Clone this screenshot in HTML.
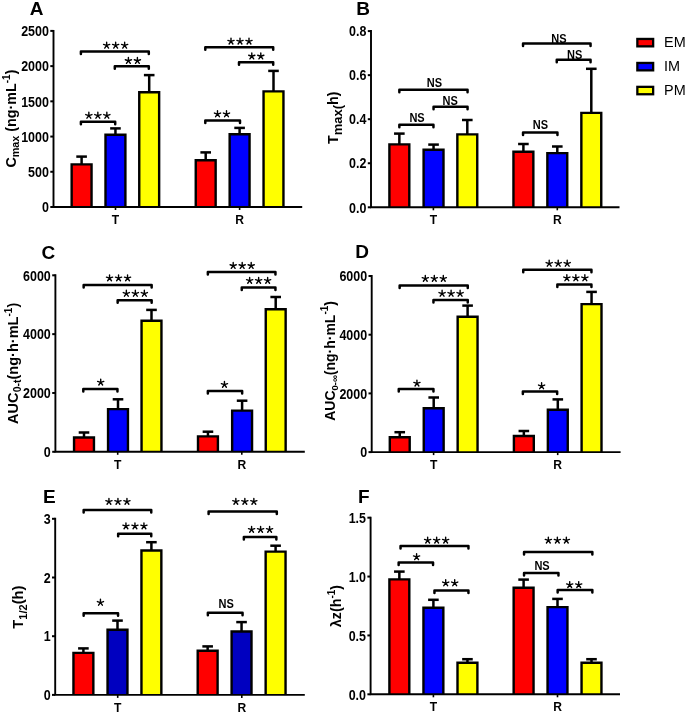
<!DOCTYPE html>
<html><head><meta charset="utf-8"><style>
html,body{margin:0;padding:0;background:#fff;}
svg{display:block;will-change:transform;}
text{font-family:"Liberation Sans", sans-serif;fill:#000;}
</style></head><body>
<svg width="685" height="714" viewBox="0 0 685 714">
<rect width="685" height="714" fill="#fff"/>
<path d="M81.6 164.2V156.6" stroke="#000" stroke-width="2.5"/><path d="M76.3 156.6H86.9" stroke="#000" stroke-width="2.5"/><rect x="71.65" y="164.4" width="19.9" height="42.6" fill="#ff0000"/><path d="M71.65 207V164.4H91.55V207" fill="none" stroke="#000" stroke-width="2.4"/><path d="M115.45 134.6V128.4" stroke="#000" stroke-width="2.5"/><path d="M110.15 128.4H120.75" stroke="#000" stroke-width="2.5"/><rect x="105.5" y="134.8" width="19.9" height="72.2" fill="#0000ff"/><path d="M105.5 207V134.8H125.4V207" fill="none" stroke="#000" stroke-width="2.4"/><path d="M149.2 92V75.1" stroke="#000" stroke-width="2.5"/><path d="M143.9 75.1H154.5" stroke="#000" stroke-width="2.5"/><rect x="139.25" y="92.2" width="19.9" height="114.8" fill="#ffff00"/><path d="M139.25 207V92.2H159.15V207" fill="none" stroke="#000" stroke-width="2.4"/><path d="M205.7 160V152.4" stroke="#000" stroke-width="2.5"/><path d="M200.4 152.4H211" stroke="#000" stroke-width="2.5"/><rect x="195.75" y="160.2" width="19.9" height="46.8" fill="#ff0000"/><path d="M195.75 207V160.2H215.65V207" fill="none" stroke="#000" stroke-width="2.4"/><path d="M239.6 134V127.9" stroke="#000" stroke-width="2.5"/><path d="M234.3 127.9H244.9" stroke="#000" stroke-width="2.5"/><rect x="229.65" y="134.2" width="19.9" height="72.8" fill="#0000ff"/><path d="M229.65 207V134.2H249.55V207" fill="none" stroke="#000" stroke-width="2.4"/><path d="M273.5 91.2V70.9" stroke="#000" stroke-width="2.5"/><path d="M268.2 70.9H278.8" stroke="#000" stroke-width="2.5"/><rect x="263.55" y="91.4" width="19.9" height="115.6" fill="#ffff00"/><path d="M263.55 207V91.4H283.45V207" fill="none" stroke="#000" stroke-width="2.4"/><path d="M53.5 29.9V207H302.2" stroke="#000" stroke-width="1.9" fill="none"/><path d="M50.3 207H53.5" stroke="#000" stroke-width="2"/><text transform="translate(48.9 212.2) scale(0.89 1)" font-size="14" font-weight="bold" text-anchor="end">0</text><path d="M50.3 171.78H53.5" stroke="#000" stroke-width="2"/><text transform="translate(48.9 176.98) scale(0.89 1)" font-size="14" font-weight="bold" text-anchor="end">500</text><path d="M50.3 136.56H53.5" stroke="#000" stroke-width="2"/><text transform="translate(48.9 141.76) scale(0.89 1)" font-size="14" font-weight="bold" text-anchor="end">1000</text><path d="M50.3 101.34H53.5" stroke="#000" stroke-width="2"/><text transform="translate(48.9 106.54) scale(0.89 1)" font-size="14" font-weight="bold" text-anchor="end">1500</text><path d="M50.3 66.12H53.5" stroke="#000" stroke-width="2"/><text transform="translate(48.9 71.32) scale(0.89 1)" font-size="14" font-weight="bold" text-anchor="end">2000</text><path d="M50.3 30.9H53.5" stroke="#000" stroke-width="2"/><text transform="translate(48.9 36.1) scale(0.89 1)" font-size="14" font-weight="bold" text-anchor="end">2500</text><path d="M115.5 207V210" stroke="#000" stroke-width="1.6"/><text transform="translate(115.5 224.1) scale(0.93 1)" font-size="13" font-weight="bold" text-anchor="middle">T</text><path d="M239.6 207V210" stroke="#000" stroke-width="1.6"/><text transform="translate(239.6 224.1) scale(0.93 1)" font-size="13" font-weight="bold" text-anchor="middle">R</text><path d="M80.9 54.1V51.6H148.8V54.1" stroke="#000" stroke-width="2.5" fill="none" stroke-linejoin="round" stroke-linecap="round"/><path d="M114.8 68.7V66.2H148.8V68.7" stroke="#000" stroke-width="2.5" fill="none" stroke-linejoin="round" stroke-linecap="round"/><path d="M80.9 124.2V121.7H115.2V124.2" stroke="#000" stroke-width="2.5" fill="none" stroke-linejoin="round" stroke-linecap="round"/><path d="M205.3 49.8V47.3H273.2V49.8" stroke="#000" stroke-width="2.5" fill="none" stroke-linejoin="round" stroke-linecap="round"/><path d="M239 64.7V62.2H273.2V64.7" stroke="#000" stroke-width="2.5" fill="none" stroke-linejoin="round" stroke-linecap="round"/><path d="M205.3 123V120.5H240V123" stroke="#000" stroke-width="2.5" fill="none" stroke-linejoin="round" stroke-linecap="round"/><path d="M106.65 45.45L106.65 42.2M106.65 45.45L109.74 44.45M106.65 45.45L103.56 44.45M106.65 45.45L108.56 48.08M106.65 45.45L104.74 48.08" stroke="#000" stroke-width="1.4" stroke-linecap="round" fill="none"/><path d="M115.65 45.45L115.65 42.2M115.65 45.45L118.74 44.45M115.65 45.45L112.56 44.45M115.65 45.45L117.56 48.08M115.65 45.45L113.74 48.08" stroke="#000" stroke-width="1.4" stroke-linecap="round" fill="none"/><path d="M124.65 45.45L124.65 42.2M124.65 45.45L127.74 44.45M124.65 45.45L121.56 44.45M124.65 45.45L126.56 48.08M124.65 45.45L122.74 48.08" stroke="#000" stroke-width="1.4" stroke-linecap="round" fill="none"/><path d="M128.4 60.75L128.4 57.5M128.4 60.75L131.49 59.75M128.4 60.75L125.31 59.75M128.4 60.75L130.31 63.38M128.4 60.75L126.49 63.38" stroke="#000" stroke-width="1.4" stroke-linecap="round" fill="none"/><path d="M137.4 60.75L137.4 57.5M137.4 60.75L140.49 59.75M137.4 60.75L134.31 59.75M137.4 60.75L139.31 63.38M137.4 60.75L135.49 63.38" stroke="#000" stroke-width="1.4" stroke-linecap="round" fill="none"/><path d="M88.85 115.55L88.85 112.3M88.85 115.55L91.94 114.55M88.85 115.55L85.76 114.55M88.85 115.55L90.76 118.18M88.85 115.55L86.94 118.18" stroke="#000" stroke-width="1.4" stroke-linecap="round" fill="none"/><path d="M97.85 115.55L97.85 112.3M97.85 115.55L100.94 114.55M97.85 115.55L94.76 114.55M97.85 115.55L99.76 118.18M97.85 115.55L95.94 118.18" stroke="#000" stroke-width="1.4" stroke-linecap="round" fill="none"/><path d="M106.85 115.55L106.85 112.3M106.85 115.55L109.94 114.55M106.85 115.55L103.76 114.55M106.85 115.55L108.76 118.18M106.85 115.55L104.94 118.18" stroke="#000" stroke-width="1.4" stroke-linecap="round" fill="none"/><path d="M231 41.35L231 38.1M231 41.35L234.09 40.35M231 41.35L227.91 40.35M231 41.35L232.91 43.98M231 41.35L229.09 43.98" stroke="#000" stroke-width="1.4" stroke-linecap="round" fill="none"/><path d="M240 41.35L240 38.1M240 41.35L243.09 40.35M240 41.35L236.91 40.35M240 41.35L241.91 43.98M240 41.35L238.09 43.98" stroke="#000" stroke-width="1.4" stroke-linecap="round" fill="none"/><path d="M249 41.35L249 38.1M249 41.35L252.09 40.35M249 41.35L245.91 40.35M249 41.35L250.91 43.98M249 41.35L247.09 43.98" stroke="#000" stroke-width="1.4" stroke-linecap="round" fill="none"/><path d="M251.8 56.25L251.8 53M251.8 56.25L254.89 55.25M251.8 56.25L248.71 55.25M251.8 56.25L253.71 58.88M251.8 56.25L249.89 58.88" stroke="#000" stroke-width="1.4" stroke-linecap="round" fill="none"/><path d="M260.8 56.25L260.8 53M260.8 56.25L263.89 55.25M260.8 56.25L257.71 55.25M260.8 56.25L262.71 58.88M260.8 56.25L258.89 58.88" stroke="#000" stroke-width="1.4" stroke-linecap="round" fill="none"/><path d="M217.5 114.05L217.5 110.8M217.5 114.05L220.59 113.05M217.5 114.05L214.41 113.05M217.5 114.05L219.41 116.68M217.5 114.05L215.59 116.68" stroke="#000" stroke-width="1.4" stroke-linecap="round" fill="none"/><path d="M226.5 114.05L226.5 110.8M226.5 114.05L229.59 113.05M226.5 114.05L223.41 113.05M226.5 114.05L228.41 116.68M226.5 114.05L224.59 116.68" stroke="#000" stroke-width="1.4" stroke-linecap="round" fill="none"/><text x="29.8" y="14.5" font-size="19" font-weight="bold" text-anchor="start">A</text><text transform="translate(16.1 167.6) rotate(-90)" text-anchor="start" font-size="14.3" font-weight="bold">C<tspan dy="2.6" font-size="10.8">max</tspan><tspan dy="-2.6"> (ng·mL</tspan><tspan dy="-6.3" font-size="10">-1</tspan><tspan dy="6.3">)</tspan></text>
<path d="M399.35 144.2V133.6" stroke="#000" stroke-width="2.5"/><path d="M394.05 133.6H404.65" stroke="#000" stroke-width="2.5"/><rect x="389.4" y="144.4" width="19.9" height="62.9" fill="#ff0000"/><path d="M389.4 207.3V144.4H409.3V207.3" fill="none" stroke="#000" stroke-width="2.4"/><path d="M433.55 149.6V144.6" stroke="#000" stroke-width="2.5"/><path d="M428.25 144.6H438.85" stroke="#000" stroke-width="2.5"/><rect x="423.6" y="149.8" width="19.9" height="57.5" fill="#0000ff"/><path d="M423.6 207.3V149.8H443.5V207.3" fill="none" stroke="#000" stroke-width="2.4"/><path d="M467.3 134.2V120" stroke="#000" stroke-width="2.5"/><path d="M462 120H472.6" stroke="#000" stroke-width="2.5"/><rect x="457.35" y="134.4" width="19.9" height="72.9" fill="#ffff00"/><path d="M457.35 207.3V134.4H477.25V207.3" fill="none" stroke="#000" stroke-width="2.4"/><path d="M523.4 151.6V144" stroke="#000" stroke-width="2.5"/><path d="M518.1 144H528.7" stroke="#000" stroke-width="2.5"/><rect x="513.45" y="151.8" width="19.9" height="55.5" fill="#ff0000"/><path d="M513.45 207.3V151.8H533.35V207.3" fill="none" stroke="#000" stroke-width="2.4"/><path d="M557.3 152.9V146.5" stroke="#000" stroke-width="2.5"/><path d="M552 146.5H562.6" stroke="#000" stroke-width="2.5"/><rect x="547.35" y="153.1" width="19.9" height="54.2" fill="#0000ff"/><path d="M547.35 207.3V153.1H567.25V207.3" fill="none" stroke="#000" stroke-width="2.4"/><path d="M591.3 112.7V68.8" stroke="#000" stroke-width="2.5"/><path d="M586 68.8H596.6" stroke="#000" stroke-width="2.5"/><rect x="581.35" y="112.9" width="19.9" height="94.4" fill="#ffff00"/><path d="M581.35 207.3V112.9H601.25V207.3" fill="none" stroke="#000" stroke-width="2.4"/><path d="M371 30.1V207.3H619.5" stroke="#000" stroke-width="1.9" fill="none"/><path d="M367.8 207.3H371" stroke="#000" stroke-width="2"/><text transform="translate(366.4 212.5) scale(0.89 1)" font-size="14" font-weight="bold" text-anchor="end">0.0</text><path d="M367.8 163.25H371" stroke="#000" stroke-width="2"/><text transform="translate(366.4 168.45) scale(0.89 1)" font-size="14" font-weight="bold" text-anchor="end">0.2</text><path d="M367.8 119.2H371" stroke="#000" stroke-width="2"/><text transform="translate(366.4 124.4) scale(0.89 1)" font-size="14" font-weight="bold" text-anchor="end">0.4</text><path d="M367.8 75.15H371" stroke="#000" stroke-width="2"/><text transform="translate(366.4 80.35) scale(0.89 1)" font-size="14" font-weight="bold" text-anchor="end">0.6</text><path d="M367.8 31.1H371" stroke="#000" stroke-width="2"/><text transform="translate(366.4 36.3) scale(0.89 1)" font-size="14" font-weight="bold" text-anchor="end">0.8</text><path d="M433.4 207.3V210.3" stroke="#000" stroke-width="1.6"/><text transform="translate(433.4 224.4) scale(0.93 1)" font-size="13" font-weight="bold" text-anchor="middle">T</text><path d="M557.3 207.3V210.3" stroke="#000" stroke-width="1.6"/><text transform="translate(557.3 224.4) scale(0.93 1)" font-size="13" font-weight="bold" text-anchor="middle">R</text><path d="M399.35 92.2V89.7H467.55V92.2" stroke="#000" stroke-width="2.5" fill="none" stroke-linejoin="round" stroke-linecap="round"/><path d="M433.55 109.3V106.8H467.55V109.3" stroke="#000" stroke-width="2.5" fill="none" stroke-linejoin="round" stroke-linecap="round"/><path d="M399.35 127.2V124.7H433.45V127.2" stroke="#000" stroke-width="2.5" fill="none" stroke-linejoin="round" stroke-linecap="round"/><path d="M523.05 46V43.5H590.55V46" stroke="#000" stroke-width="2.5" fill="none" stroke-linejoin="round" stroke-linecap="round"/><path d="M556.75 62.3V59.8H590.55V62.3" stroke="#000" stroke-width="2.5" fill="none" stroke-linejoin="round" stroke-linecap="round"/><path d="M523.05 134.9V132.4H557.45V134.9" stroke="#000" stroke-width="2.5" fill="none" stroke-linejoin="round" stroke-linecap="round"/><text transform="translate(434.35 86.6) scale(0.92 1)" font-size="12" font-weight="bold" text-anchor="middle">NS</text><text transform="translate(450.15 104.6) scale(0.92 1)" font-size="12" font-weight="bold" text-anchor="middle">NS</text><text transform="translate(417.05 122.2) scale(0.92 1)" font-size="12" font-weight="bold" text-anchor="middle">NS</text><text transform="translate(558.9 42.9) scale(0.92 1)" font-size="12" font-weight="bold" text-anchor="middle">NS</text><text transform="translate(574.7 59.1) scale(0.92 1)" font-size="12" font-weight="bold" text-anchor="middle">NS</text><text transform="translate(540.4 128.8) scale(0.92 1)" font-size="12" font-weight="bold" text-anchor="middle">NS</text><text x="356.3" y="14.5" font-size="19" font-weight="bold" text-anchor="start">B</text><text transform="translate(338.4 144) rotate(-90)" text-anchor="start" font-size="14.3" font-weight="bold">T<tspan dy="3.6" font-size="13">max(</tspan><tspan dy="-3.6">h)</tspan></text>
<path d="M84 437.3V432.5" stroke="#000" stroke-width="2.5"/><path d="M78.7 432.5H89.3" stroke="#000" stroke-width="2.5"/><rect x="74.05" y="437.5" width="19.9" height="14.3" fill="#ff0000"/><path d="M74.05 451.8V437.5H93.95V451.8" fill="none" stroke="#000" stroke-width="2.4"/><path d="M118 408.9V399.3" stroke="#000" stroke-width="2.5"/><path d="M112.7 399.3H123.3" stroke="#000" stroke-width="2.5"/><rect x="108.05" y="409.1" width="19.9" height="42.7" fill="#0000ff"/><path d="M108.05 451.8V409.1H127.95V451.8" fill="none" stroke="#000" stroke-width="2.4"/><path d="M151.5 320.6V309.9" stroke="#000" stroke-width="2.5"/><path d="M146.2 309.9H156.8" stroke="#000" stroke-width="2.5"/><rect x="141.55" y="320.8" width="19.9" height="131" fill="#ffff00"/><path d="M141.55 451.8V320.8H161.45V451.8" fill="none" stroke="#000" stroke-width="2.4"/><path d="M207.95 436.2V431.7" stroke="#000" stroke-width="2.5"/><path d="M202.65 431.7H213.25" stroke="#000" stroke-width="2.5"/><rect x="198" y="436.4" width="19.9" height="15.4" fill="#ff0000"/><path d="M198 451.8V436.4H217.9V451.8" fill="none" stroke="#000" stroke-width="2.4"/><path d="M242.1 410.4V400.7" stroke="#000" stroke-width="2.5"/><path d="M236.8 400.7H247.4" stroke="#000" stroke-width="2.5"/><rect x="232.15" y="410.6" width="19.9" height="41.2" fill="#0000ff"/><path d="M232.15 451.8V410.6H252.05V451.8" fill="none" stroke="#000" stroke-width="2.4"/><path d="M275.7 309.1V297" stroke="#000" stroke-width="2.5"/><path d="M270.4 297H281" stroke="#000" stroke-width="2.5"/><rect x="265.75" y="309.3" width="19.9" height="142.5" fill="#ffff00"/><path d="M265.75 451.8V309.3H285.65V451.8" fill="none" stroke="#000" stroke-width="2.4"/><path d="M55.4 274.31V451.8H304.8" stroke="#000" stroke-width="1.9" fill="none"/><path d="M52.2 451.8H55.4" stroke="#000" stroke-width="2"/><text transform="translate(50.8 457) scale(0.89 1)" font-size="14" font-weight="bold" text-anchor="end">0</text><path d="M52.2 392.97H55.4" stroke="#000" stroke-width="2"/><text transform="translate(50.8 398.17) scale(0.89 1)" font-size="14" font-weight="bold" text-anchor="end">2000</text><path d="M52.2 334.14H55.4" stroke="#000" stroke-width="2"/><text transform="translate(50.8 339.34) scale(0.89 1)" font-size="14" font-weight="bold" text-anchor="end">4000</text><path d="M52.2 275.31H55.4" stroke="#000" stroke-width="2"/><text transform="translate(50.8 280.51) scale(0.89 1)" font-size="14" font-weight="bold" text-anchor="end">6000</text><path d="M117.7 451.8V454.8" stroke="#000" stroke-width="1.6"/><text transform="translate(117.7 468.9) scale(0.93 1)" font-size="13" font-weight="bold" text-anchor="middle">T</text><path d="M241.8 451.8V454.8" stroke="#000" stroke-width="1.6"/><text transform="translate(241.8 468.9) scale(0.93 1)" font-size="13" font-weight="bold" text-anchor="middle">R</text><path d="M83.65 287.4V284.9H151.65V287.4" stroke="#000" stroke-width="2.5" fill="none" stroke-linejoin="round" stroke-linecap="round"/><path d="M117.65 302.8V300.3H151.65V302.8" stroke="#000" stroke-width="2.5" fill="none" stroke-linejoin="round" stroke-linecap="round"/><path d="M83.3 391.6V389.1H117.45V391.6" stroke="#000" stroke-width="2.5" fill="none" stroke-linejoin="round" stroke-linecap="round"/><path d="M207.85 274.5V272H275.45V274.5" stroke="#000" stroke-width="2.5" fill="none" stroke-linejoin="round" stroke-linecap="round"/><path d="M241.75 289.9V287.4H275.45V289.9" stroke="#000" stroke-width="2.5" fill="none" stroke-linejoin="round" stroke-linecap="round"/><path d="M207.85 393.5V391H242.15V393.5" stroke="#000" stroke-width="2.5" fill="none" stroke-linejoin="round" stroke-linecap="round"/><path d="M109.55 278.15L109.55 274.9M109.55 278.15L112.64 277.15M109.55 278.15L106.46 277.15M109.55 278.15L111.46 280.78M109.55 278.15L107.64 280.78" stroke="#000" stroke-width="1.4" stroke-linecap="round" fill="none"/><path d="M118.55 278.15L118.55 274.9M118.55 278.15L121.64 277.15M118.55 278.15L115.46 277.15M118.55 278.15L120.46 280.78M118.55 278.15L116.64 280.78" stroke="#000" stroke-width="1.4" stroke-linecap="round" fill="none"/><path d="M127.55 278.15L127.55 274.9M127.55 278.15L130.64 277.15M127.55 278.15L124.46 277.15M127.55 278.15L129.46 280.78M127.55 278.15L125.64 280.78" stroke="#000" stroke-width="1.4" stroke-linecap="round" fill="none"/><path d="M126.35 293.55L126.35 290.3M126.35 293.55L129.44 292.55M126.35 293.55L123.26 292.55M126.35 293.55L128.26 296.18M126.35 293.55L124.44 296.18" stroke="#000" stroke-width="1.4" stroke-linecap="round" fill="none"/><path d="M135.35 293.55L135.35 290.3M135.35 293.55L138.44 292.55M135.35 293.55L132.26 292.55M135.35 293.55L137.26 296.18M135.35 293.55L133.44 296.18" stroke="#000" stroke-width="1.4" stroke-linecap="round" fill="none"/><path d="M144.35 293.55L144.35 290.3M144.35 293.55L147.44 292.55M144.35 293.55L141.26 292.55M144.35 293.55L146.26 296.18M144.35 293.55L142.44 296.18" stroke="#000" stroke-width="1.4" stroke-linecap="round" fill="none"/><path d="M100.7 382.35L100.7 379.1M100.7 382.35L103.79 381.35M100.7 382.35L97.61 381.35M100.7 382.35L102.61 384.98M100.7 382.35L98.79 384.98" stroke="#000" stroke-width="1.4" stroke-linecap="round" fill="none"/><path d="M233.2 265.75L233.2 262.5M233.2 265.75L236.29 264.75M233.2 265.75L230.11 264.75M233.2 265.75L235.11 268.38M233.2 265.75L231.29 268.38" stroke="#000" stroke-width="1.4" stroke-linecap="round" fill="none"/><path d="M242.2 265.75L242.2 262.5M242.2 265.75L245.29 264.75M242.2 265.75L239.11 264.75M242.2 265.75L244.11 268.38M242.2 265.75L240.29 268.38" stroke="#000" stroke-width="1.4" stroke-linecap="round" fill="none"/><path d="M251.2 265.75L251.2 262.5M251.2 265.75L254.29 264.75M251.2 265.75L248.11 264.75M251.2 265.75L253.11 268.38M251.2 265.75L249.29 268.38" stroke="#000" stroke-width="1.4" stroke-linecap="round" fill="none"/><path d="M249.65 280.65L249.65 277.4M249.65 280.65L252.74 279.65M249.65 280.65L246.56 279.65M249.65 280.65L251.56 283.28M249.65 280.65L247.74 283.28" stroke="#000" stroke-width="1.4" stroke-linecap="round" fill="none"/><path d="M258.65 280.65L258.65 277.4M258.65 280.65L261.74 279.65M258.65 280.65L255.56 279.65M258.65 280.65L260.56 283.28M258.65 280.65L256.74 283.28" stroke="#000" stroke-width="1.4" stroke-linecap="round" fill="none"/><path d="M267.65 280.65L267.65 277.4M267.65 280.65L270.74 279.65M267.65 280.65L264.56 279.65M267.65 280.65L269.56 283.28M267.65 280.65L265.74 283.28" stroke="#000" stroke-width="1.4" stroke-linecap="round" fill="none"/><path d="M224.45 384.65L224.45 381.4M224.45 384.65L227.54 383.65M224.45 384.65L221.36 383.65M224.45 384.65L226.36 387.28M224.45 384.65L222.54 387.28" stroke="#000" stroke-width="1.4" stroke-linecap="round" fill="none"/><text x="41.5" y="258.6" font-size="19" font-weight="bold" text-anchor="start">C</text><text transform="translate(17.8 423.9) rotate(-90)" text-anchor="start" font-size="14.55" font-weight="bold">AUC<tspan dy="3" font-size="10.5">0-t</tspan><tspan dy="-3">(ng·h·mL</tspan><tspan dy="-6.3" font-size="10">-1</tspan><tspan dy="6.3">)</tspan></text>
<path d="M399.75 437V432.2" stroke="#000" stroke-width="2.5"/><path d="M394.45 432.2H405.05" stroke="#000" stroke-width="2.5"/><rect x="389.8" y="437.2" width="19.9" height="14.9" fill="#ff0000"/><path d="M389.8 452.1V437.2H409.7V452.1" fill="none" stroke="#000" stroke-width="2.4"/><path d="M433.7 408.1V397.5" stroke="#000" stroke-width="2.5"/><path d="M428.4 397.5H439" stroke="#000" stroke-width="2.5"/><rect x="423.75" y="408.3" width="19.9" height="43.8" fill="#0000ff"/><path d="M423.75 452.1V408.3H443.65V452.1" fill="none" stroke="#000" stroke-width="2.4"/><path d="M467.6 316.5V305.6" stroke="#000" stroke-width="2.5"/><path d="M462.3 305.6H472.9" stroke="#000" stroke-width="2.5"/><rect x="457.65" y="316.7" width="19.9" height="135.4" fill="#ffff00"/><path d="M457.65 452.1V316.7H477.55V452.1" fill="none" stroke="#000" stroke-width="2.4"/><path d="M523.85 435.8V431" stroke="#000" stroke-width="2.5"/><path d="M518.55 431H529.15" stroke="#000" stroke-width="2.5"/><rect x="513.9" y="436" width="19.9" height="16.1" fill="#ff0000"/><path d="M513.9 452.1V436H533.8V452.1" fill="none" stroke="#000" stroke-width="2.4"/><path d="M557.8 409.5V399.4" stroke="#000" stroke-width="2.5"/><path d="M552.5 399.4H563.1" stroke="#000" stroke-width="2.5"/><rect x="547.85" y="409.7" width="19.9" height="42.4" fill="#0000ff"/><path d="M547.85 452.1V409.7H567.75V452.1" fill="none" stroke="#000" stroke-width="2.4"/><path d="M591.55 303.9V291.9" stroke="#000" stroke-width="2.5"/><path d="M586.25 291.9H596.85" stroke="#000" stroke-width="2.5"/><rect x="581.6" y="304.1" width="19.9" height="148" fill="#ffff00"/><path d="M581.6 452.1V304.1H601.5V452.1" fill="none" stroke="#000" stroke-width="2.4"/><path d="M371.7 275V452.1H620.6" stroke="#000" stroke-width="1.9" fill="none"/><path d="M368.5 452.1H371.7" stroke="#000" stroke-width="2"/><text transform="translate(367.1 457.3) scale(0.89 1)" font-size="14" font-weight="bold" text-anchor="end">0</text><path d="M368.5 393.4H371.7" stroke="#000" stroke-width="2"/><text transform="translate(367.1 398.6) scale(0.89 1)" font-size="14" font-weight="bold" text-anchor="end">2000</text><path d="M368.5 334.7H371.7" stroke="#000" stroke-width="2"/><text transform="translate(367.1 339.9) scale(0.89 1)" font-size="14" font-weight="bold" text-anchor="end">4000</text><path d="M368.5 276H371.7" stroke="#000" stroke-width="2"/><text transform="translate(367.1 281.2) scale(0.89 1)" font-size="14" font-weight="bold" text-anchor="end">6000</text><path d="M433.6 452.1V455.1" stroke="#000" stroke-width="1.6"/><text transform="translate(433.6 469.2) scale(0.93 1)" font-size="13" font-weight="bold" text-anchor="middle">T</text><path d="M557.7 452.1V455.1" stroke="#000" stroke-width="1.6"/><text transform="translate(557.7 469.2) scale(0.93 1)" font-size="13" font-weight="bold" text-anchor="middle">R</text><path d="M399.65 287.9V285.4H467.75V287.9" stroke="#000" stroke-width="2.5" fill="none" stroke-linejoin="round" stroke-linecap="round"/><path d="M433.45 302.4V299.9H467.75V302.4" stroke="#000" stroke-width="2.5" fill="none" stroke-linejoin="round" stroke-linecap="round"/><path d="M398.75 391.4V388.9H433.45V391.4" stroke="#000" stroke-width="2.5" fill="none" stroke-linejoin="round" stroke-linecap="round"/><path d="M523.25 272.3V269.8H591.45V272.3" stroke="#000" stroke-width="2.5" fill="none" stroke-linejoin="round" stroke-linecap="round"/><path d="M557.35 286.9V284.4H591.45V286.9" stroke="#000" stroke-width="2.5" fill="none" stroke-linejoin="round" stroke-linecap="round"/><path d="M522.85 393.9V391.4H557.15V393.9" stroke="#000" stroke-width="2.5" fill="none" stroke-linejoin="round" stroke-linecap="round"/><path d="M425.3 278.65L425.3 275.4M425.3 278.65L428.39 277.65M425.3 278.65L422.21 277.65M425.3 278.65L427.21 281.28M425.3 278.65L423.39 281.28" stroke="#000" stroke-width="1.4" stroke-linecap="round" fill="none"/><path d="M434.3 278.65L434.3 275.4M434.3 278.65L437.39 277.65M434.3 278.65L431.21 277.65M434.3 278.65L436.21 281.28M434.3 278.65L432.39 281.28" stroke="#000" stroke-width="1.4" stroke-linecap="round" fill="none"/><path d="M443.3 278.65L443.3 275.4M443.3 278.65L446.39 277.65M443.3 278.65L440.21 277.65M443.3 278.65L445.21 281.28M443.3 278.65L441.39 281.28" stroke="#000" stroke-width="1.4" stroke-linecap="round" fill="none"/><path d="M442.1 293.55L442.1 290.3M442.1 293.55L445.19 292.55M442.1 293.55L439.01 292.55M442.1 293.55L444.01 296.18M442.1 293.55L440.19 296.18" stroke="#000" stroke-width="1.4" stroke-linecap="round" fill="none"/><path d="M451.1 293.55L451.1 290.3M451.1 293.55L454.19 292.55M451.1 293.55L448.01 292.55M451.1 293.55L453.01 296.18M451.1 293.55L449.19 296.18" stroke="#000" stroke-width="1.4" stroke-linecap="round" fill="none"/><path d="M460.1 293.55L460.1 290.3M460.1 293.55L463.19 292.55M460.1 293.55L457.01 292.55M460.1 293.55L462.01 296.18M460.1 293.55L458.19 296.18" stroke="#000" stroke-width="1.4" stroke-linecap="round" fill="none"/><path d="M416.95 383.35L416.95 380.1M416.95 383.35L420.04 382.35M416.95 383.35L413.86 382.35M416.95 383.35L418.86 385.98M416.95 383.35L415.04 385.98" stroke="#000" stroke-width="1.4" stroke-linecap="round" fill="none"/><path d="M549.2 263.55L549.2 260.3M549.2 263.55L552.29 262.55M549.2 263.55L546.11 262.55M549.2 263.55L551.11 266.18M549.2 263.55L547.29 266.18" stroke="#000" stroke-width="1.4" stroke-linecap="round" fill="none"/><path d="M558.2 263.55L558.2 260.3M558.2 263.55L561.29 262.55M558.2 263.55L555.11 262.55M558.2 263.55L560.11 266.18M558.2 263.55L556.29 266.18" stroke="#000" stroke-width="1.4" stroke-linecap="round" fill="none"/><path d="M567.2 263.55L567.2 260.3M567.2 263.55L570.29 262.55M567.2 263.55L564.11 262.55M567.2 263.55L569.11 266.18M567.2 263.55L565.29 266.18" stroke="#000" stroke-width="1.4" stroke-linecap="round" fill="none"/><path d="M566.85 278.05L566.85 274.8M566.85 278.05L569.94 277.05M566.85 278.05L563.76 277.05M566.85 278.05L568.76 280.68M566.85 278.05L564.94 280.68" stroke="#000" stroke-width="1.4" stroke-linecap="round" fill="none"/><path d="M575.85 278.05L575.85 274.8M575.85 278.05L578.94 277.05M575.85 278.05L572.76 277.05M575.85 278.05L577.76 280.68M575.85 278.05L573.94 280.68" stroke="#000" stroke-width="1.4" stroke-linecap="round" fill="none"/><path d="M584.85 278.05L584.85 274.8M584.85 278.05L587.94 277.05M584.85 278.05L581.76 277.05M584.85 278.05L586.76 280.68M584.85 278.05L582.94 280.68" stroke="#000" stroke-width="1.4" stroke-linecap="round" fill="none"/><path d="M541.6 386.05L541.6 382.8M541.6 386.05L544.69 385.05M541.6 386.05L538.51 385.05M541.6 386.05L543.51 388.68M541.6 386.05L539.69 388.68" stroke="#000" stroke-width="1.4" stroke-linecap="round" fill="none"/><text x="355.2" y="258.3" font-size="19" font-weight="bold" text-anchor="start">D</text><text transform="translate(334.6 420.8) rotate(-90)" text-anchor="start" font-size="14" font-weight="bold">AUC<tspan dy="3" font-size="9.5">0-∞</tspan><tspan dy="-3">(ng·h·mL</tspan><tspan dy="-6.3" font-size="10">-1</tspan><tspan dy="6.3">)</tspan></text>
<path d="M83.4 652.7V648.4" stroke="#000" stroke-width="2.5"/><path d="M78.1 648.4H88.7" stroke="#000" stroke-width="2.5"/><rect x="73.45" y="652.9" width="19.9" height="42" fill="#ff0000"/><path d="M73.45 694.9V652.9H93.35V694.9" fill="none" stroke="#000" stroke-width="2.4"/><path d="M117.5 629.6V620.6" stroke="#000" stroke-width="2.5"/><path d="M112.2 620.6H122.8" stroke="#000" stroke-width="2.5"/><rect x="107.55" y="629.8" width="19.9" height="65.1" fill="#0000c0"/><path d="M107.55 694.9V629.8H127.45V694.9" fill="none" stroke="#000" stroke-width="2.4"/><path d="M151.4 550.3V542.2" stroke="#000" stroke-width="2.5"/><path d="M146.1 542.2H156.7" stroke="#000" stroke-width="2.5"/><rect x="141.45" y="550.5" width="19.9" height="144.4" fill="#ffff00"/><path d="M141.45 694.9V550.5H161.35V694.9" fill="none" stroke="#000" stroke-width="2.4"/><path d="M207.65 650.6V646.4" stroke="#000" stroke-width="2.5"/><path d="M202.35 646.4H212.95" stroke="#000" stroke-width="2.5"/><rect x="197.7" y="650.8" width="19.9" height="44.1" fill="#ff0000"/><path d="M197.7 694.9V650.8H217.6V694.9" fill="none" stroke="#000" stroke-width="2.4"/><path d="M241.55 631.3V622.1" stroke="#000" stroke-width="2.5"/><path d="M236.25 622.1H246.85" stroke="#000" stroke-width="2.5"/><rect x="231.6" y="631.5" width="19.9" height="63.4" fill="#0000c0"/><path d="M231.6 694.9V631.5H251.5V694.9" fill="none" stroke="#000" stroke-width="2.4"/><path d="M275.6 551.4V545.7" stroke="#000" stroke-width="2.5"/><path d="M270.3 545.7H280.9" stroke="#000" stroke-width="2.5"/><rect x="265.65" y="551.6" width="19.9" height="143.3" fill="#ffff00"/><path d="M265.65 694.9V551.6H285.55V694.9" fill="none" stroke="#000" stroke-width="2.4"/><path d="M55.2 517.8V694.9H304.8" stroke="#000" stroke-width="1.9" fill="none"/><path d="M52 694.9H55.2" stroke="#000" stroke-width="2"/><text transform="translate(50.6 700.1) scale(0.89 1)" font-size="14" font-weight="bold" text-anchor="end">0</text><path d="M52 636.2H55.2" stroke="#000" stroke-width="2"/><text transform="translate(50.6 641.4) scale(0.89 1)" font-size="14" font-weight="bold" text-anchor="end">1</text><path d="M52 577.5H55.2" stroke="#000" stroke-width="2"/><text transform="translate(50.6 582.7) scale(0.89 1)" font-size="14" font-weight="bold" text-anchor="end">2</text><path d="M52 518.8H55.2" stroke="#000" stroke-width="2"/><text transform="translate(50.6 524) scale(0.89 1)" font-size="14" font-weight="bold" text-anchor="end">3</text><path d="M117.7 694.9V697.9" stroke="#000" stroke-width="1.6"/><text transform="translate(117.7 712) scale(0.93 1)" font-size="13" font-weight="bold" text-anchor="middle">T</text><path d="M241.8 694.9V697.9" stroke="#000" stroke-width="1.6"/><text transform="translate(241.8 712) scale(0.93 1)" font-size="13" font-weight="bold" text-anchor="middle">R</text><path d="M83.65 512.6V510.1H151.25V512.6" stroke="#000" stroke-width="2.5" fill="none" stroke-linejoin="round" stroke-linecap="round"/><path d="M118.15 536.3V533.8H151.25V536.3" stroke="#000" stroke-width="2.5" fill="none" stroke-linejoin="round" stroke-linecap="round"/><path d="M83.65 615.8V613.3H118.05V615.8" stroke="#000" stroke-width="2.5" fill="none" stroke-linejoin="round" stroke-linecap="round"/><path d="M208.6 513.9V511.4H276.8V513.9" stroke="#000" stroke-width="2.5" fill="none" stroke-linejoin="round" stroke-linecap="round"/><path d="M243.85 539.5V537H276.35V539.5" stroke="#000" stroke-width="2.5" fill="none" stroke-linejoin="round" stroke-linecap="round"/><path d="M207.85 615.3V612.8H242.55V615.3" stroke="#000" stroke-width="2.5" fill="none" stroke-linejoin="round" stroke-linecap="round"/><path d="M108.95 501.65L108.95 498.4M108.95 501.65L112.04 500.65M108.95 501.65L105.86 500.65M108.95 501.65L110.86 504.28M108.95 501.65L107.04 504.28" stroke="#000" stroke-width="1.4" stroke-linecap="round" fill="none"/><path d="M117.95 501.65L117.95 498.4M117.95 501.65L121.04 500.65M117.95 501.65L114.86 500.65M117.95 501.65L119.86 504.28M117.95 501.65L116.04 504.28" stroke="#000" stroke-width="1.4" stroke-linecap="round" fill="none"/><path d="M126.95 501.65L126.95 498.4M126.95 501.65L130.04 500.65M126.95 501.65L123.86 500.65M126.95 501.65L128.86 504.28M126.95 501.65L125.04 504.28" stroke="#000" stroke-width="1.4" stroke-linecap="round" fill="none"/><path d="M125.95 526.15L125.95 522.9M125.95 526.15L129.04 525.15M125.95 526.15L122.86 525.15M125.95 526.15L127.86 528.78M125.95 526.15L124.04 528.78" stroke="#000" stroke-width="1.4" stroke-linecap="round" fill="none"/><path d="M134.95 526.15L134.95 522.9M134.95 526.15L138.04 525.15M134.95 526.15L131.86 525.15M134.95 526.15L136.86 528.78M134.95 526.15L133.04 528.78" stroke="#000" stroke-width="1.4" stroke-linecap="round" fill="none"/><path d="M143.95 526.15L143.95 522.9M143.95 526.15L147.04 525.15M143.95 526.15L140.86 525.15M143.95 526.15L145.86 528.78M143.95 526.15L142.04 528.78" stroke="#000" stroke-width="1.4" stroke-linecap="round" fill="none"/><path d="M100.45 602.55L100.45 599.3M100.45 602.55L103.54 601.55M100.45 602.55L97.36 601.55M100.45 602.55L102.36 605.18M100.45 602.55L98.54 605.18" stroke="#000" stroke-width="1.4" stroke-linecap="round" fill="none"/><path d="M235.85 501.65L235.85 498.4M235.85 501.65L238.94 500.65M235.85 501.65L232.76 500.65M235.85 501.65L237.76 504.28M235.85 501.65L233.94 504.28" stroke="#000" stroke-width="1.4" stroke-linecap="round" fill="none"/><path d="M244.85 501.65L244.85 498.4M244.85 501.65L247.94 500.65M244.85 501.65L241.76 500.65M244.85 501.65L246.76 504.28M244.85 501.65L242.94 504.28" stroke="#000" stroke-width="1.4" stroke-linecap="round" fill="none"/><path d="M253.85 501.65L253.85 498.4M253.85 501.65L256.94 500.65M253.85 501.65L250.76 500.65M253.85 501.65L255.76 504.28M253.85 501.65L251.94 504.28" stroke="#000" stroke-width="1.4" stroke-linecap="round" fill="none"/><path d="M251.6 529.65L251.6 526.4M251.6 529.65L254.69 528.65M251.6 529.65L248.51 528.65M251.6 529.65L253.51 532.28M251.6 529.65L249.69 532.28" stroke="#000" stroke-width="1.4" stroke-linecap="round" fill="none"/><path d="M260.6 529.65L260.6 526.4M260.6 529.65L263.69 528.65M260.6 529.65L257.51 528.65M260.6 529.65L262.51 532.28M260.6 529.65L258.69 532.28" stroke="#000" stroke-width="1.4" stroke-linecap="round" fill="none"/><path d="M269.6 529.65L269.6 526.4M269.6 529.65L272.69 528.65M269.6 529.65L266.51 528.65M269.6 529.65L271.51 532.28M269.6 529.65L267.69 532.28" stroke="#000" stroke-width="1.4" stroke-linecap="round" fill="none"/><text transform="translate(226.15 607.6) scale(0.92 1)" font-size="12" font-weight="bold" text-anchor="middle">NS</text><text x="43.1" y="502.6" font-size="19" font-weight="bold" text-anchor="start">E</text><text transform="translate(23 628.7) rotate(-90)" text-anchor="start" font-size="14.8" font-weight="bold">T<tspan dy="3.5" font-size="11">1/2</tspan><tspan dy="-3.5">(h)</tspan></text>
<path d="M399.35 579.2V571.6" stroke="#000" stroke-width="2.5"/><path d="M394.05 571.6H404.65" stroke="#000" stroke-width="2.5"/><rect x="389.4" y="579.4" width="19.9" height="114.9" fill="#ff0000"/><path d="M389.4 694.3V579.4H409.3V694.3" fill="none" stroke="#000" stroke-width="2.4"/><path d="M433.4 607.6V599.8" stroke="#000" stroke-width="2.5"/><path d="M428.1 599.8H438.7" stroke="#000" stroke-width="2.5"/><rect x="423.45" y="607.8" width="19.9" height="86.5" fill="#0000ff"/><path d="M423.45 694.3V607.8H443.35V694.3" fill="none" stroke="#000" stroke-width="2.4"/><path d="M467.45 662.5V659.2" stroke="#000" stroke-width="2.5"/><path d="M462.15 659.2H472.75" stroke="#000" stroke-width="2.5"/><rect x="457.5" y="662.7" width="19.9" height="31.6" fill="#ffff00"/><path d="M457.5 694.3V662.7H477.4V694.3" fill="none" stroke="#000" stroke-width="2.4"/><path d="M523.6 587.5V579.6" stroke="#000" stroke-width="2.5"/><path d="M518.3 579.6H528.9" stroke="#000" stroke-width="2.5"/><rect x="513.65" y="587.7" width="19.9" height="106.6" fill="#ff0000"/><path d="M513.65 694.3V587.7H533.55V694.3" fill="none" stroke="#000" stroke-width="2.4"/><path d="M557.5 606.9V598.9" stroke="#000" stroke-width="2.5"/><path d="M552.2 598.9H562.8" stroke="#000" stroke-width="2.5"/><rect x="547.55" y="607.1" width="19.9" height="87.2" fill="#0000ff"/><path d="M547.55 694.3V607.1H567.45V694.3" fill="none" stroke="#000" stroke-width="2.4"/><path d="M591.5 662.5V659.2" stroke="#000" stroke-width="2.5"/><path d="M586.2 659.2H596.8" stroke="#000" stroke-width="2.5"/><rect x="581.55" y="662.7" width="19.9" height="31.6" fill="#ffff00"/><path d="M581.55 694.3V662.7H601.45V694.3" fill="none" stroke="#000" stroke-width="2.4"/><path d="M370.6 516.69V694.3H620" stroke="#000" stroke-width="1.9" fill="none"/><path d="M367.4 694.3H370.6" stroke="#000" stroke-width="2"/><text transform="translate(366 699.5) scale(0.89 1)" font-size="14" font-weight="bold" text-anchor="end">0.0</text><path d="M367.4 635.43H370.6" stroke="#000" stroke-width="2"/><text transform="translate(366 640.63) scale(0.89 1)" font-size="14" font-weight="bold" text-anchor="end">0.5</text><path d="M367.4 576.56H370.6" stroke="#000" stroke-width="2"/><text transform="translate(366 581.76) scale(0.89 1)" font-size="14" font-weight="bold" text-anchor="end">1.0</text><path d="M367.4 517.69H370.6" stroke="#000" stroke-width="2"/><text transform="translate(366 522.89) scale(0.89 1)" font-size="14" font-weight="bold" text-anchor="end">1.5</text><path d="M433.4 694.3V697.3" stroke="#000" stroke-width="1.6"/><text transform="translate(433.4 711.4) scale(0.93 1)" font-size="13" font-weight="bold" text-anchor="middle">T</text><path d="M557.5 694.3V697.3" stroke="#000" stroke-width="1.6"/><text transform="translate(557.5 711.4) scale(0.93 1)" font-size="13" font-weight="bold" text-anchor="middle">R</text><path d="M400.55 548.6V546.1H468.45V548.6" stroke="#000" stroke-width="2.5" fill="none" stroke-linejoin="round" stroke-linecap="round"/><path d="M398.65 564.9V562.4H433.05V564.9" stroke="#000" stroke-width="2.5" fill="none" stroke-linejoin="round" stroke-linecap="round"/><path d="M434.45 593.1V590.6H468.45V593.1" stroke="#000" stroke-width="2.5" fill="none" stroke-linejoin="round" stroke-linecap="round"/><path d="M524.05 554.4V551.9H592.35V554.4" stroke="#000" stroke-width="2.5" fill="none" stroke-linejoin="round" stroke-linecap="round"/><path d="M524.05 575.6V573.1H558.45V575.6" stroke="#000" stroke-width="2.5" fill="none" stroke-linejoin="round" stroke-linecap="round"/><path d="M557.65 592.4V589.9H592.35V592.4" stroke="#000" stroke-width="2.5" fill="none" stroke-linejoin="round" stroke-linecap="round"/><path d="M427.65 540.35L427.65 537.1M427.65 540.35L430.74 539.35M427.65 540.35L424.56 539.35M427.65 540.35L429.56 542.98M427.65 540.35L425.74 542.98" stroke="#000" stroke-width="1.4" stroke-linecap="round" fill="none"/><path d="M436.65 540.35L436.65 537.1M436.65 540.35L439.74 539.35M436.65 540.35L433.56 539.35M436.65 540.35L438.56 542.98M436.65 540.35L434.74 542.98" stroke="#000" stroke-width="1.4" stroke-linecap="round" fill="none"/><path d="M445.65 540.35L445.65 537.1M445.65 540.35L448.74 539.35M445.65 540.35L442.56 539.35M445.65 540.35L447.56 542.98M445.65 540.35L443.74 542.98" stroke="#000" stroke-width="1.4" stroke-linecap="round" fill="none"/><path d="M416.6 556.95L416.6 553.7M416.6 556.95L419.69 555.95M416.6 556.95L413.51 555.95M416.6 556.95L418.51 559.58M416.6 556.95L414.69 559.58" stroke="#000" stroke-width="1.4" stroke-linecap="round" fill="none"/><path d="M445.7 583.05L445.7 579.8M445.7 583.05L448.79 582.05M445.7 583.05L442.61 582.05M445.7 583.05L447.61 585.68M445.7 583.05L443.79 585.68" stroke="#000" stroke-width="1.4" stroke-linecap="round" fill="none"/><path d="M454.7 583.05L454.7 579.8M454.7 583.05L457.79 582.05M454.7 583.05L451.61 582.05M454.7 583.05L456.61 585.68M454.7 583.05L452.79 585.68" stroke="#000" stroke-width="1.4" stroke-linecap="round" fill="none"/><path d="M548.35 540.35L548.35 537.1M548.35 540.35L551.44 539.35M548.35 540.35L545.26 539.35M548.35 540.35L550.26 542.98M548.35 540.35L546.44 542.98" stroke="#000" stroke-width="1.4" stroke-linecap="round" fill="none"/><path d="M557.35 540.35L557.35 537.1M557.35 540.35L560.44 539.35M557.35 540.35L554.26 539.35M557.35 540.35L559.26 542.98M557.35 540.35L555.44 542.98" stroke="#000" stroke-width="1.4" stroke-linecap="round" fill="none"/><path d="M566.35 540.35L566.35 537.1M566.35 540.35L569.44 539.35M566.35 540.35L563.26 539.35M566.35 540.35L568.26 542.98M566.35 540.35L564.44 542.98" stroke="#000" stroke-width="1.4" stroke-linecap="round" fill="none"/><text transform="translate(542.05 569.6) scale(0.92 1)" font-size="12" font-weight="bold" text-anchor="middle">NS</text><path d="M569.7 584.85L569.7 581.6M569.7 584.85L572.79 583.85M569.7 584.85L566.61 583.85M569.7 584.85L571.61 587.48M569.7 584.85L567.79 587.48" stroke="#000" stroke-width="1.4" stroke-linecap="round" fill="none"/><path d="M578.7 584.85L578.7 581.6M578.7 584.85L581.79 583.85M578.7 584.85L575.61 583.85M578.7 584.85L580.61 587.48M578.7 584.85L576.79 587.48" stroke="#000" stroke-width="1.4" stroke-linecap="round" fill="none"/><text x="358.1" y="502.6" font-size="19" font-weight="bold" text-anchor="start">F</text><text transform="translate(341 627.2) rotate(-90)" text-anchor="start" font-size="14.3" font-weight="bold">λz(h<tspan dy="-6.3" font-size="10">-1</tspan><tspan dy="6.3">)</tspan></text>
<rect x="637.35" y="38.95" width="15.8" height="7.4" fill="#ff0000" stroke="#000" stroke-width="2.3"/><text transform="translate(664.1 47.05) scale(0.95 1)" font-size="15.2" fill="#1a1a1a">EM</text><rect x="637.35" y="62.95" width="15.8" height="7.4" fill="#0000ff" stroke="#000" stroke-width="2.3"/><text transform="translate(664.1 71.05) scale(0.95 1)" font-size="15.2" fill="#1a1a1a">IM</text><rect x="637.35" y="86.85" width="15.8" height="7.4" fill="#ffff00" stroke="#000" stroke-width="2.3"/><text transform="translate(664.1 94.95) scale(0.95 1)" font-size="15.2" fill="#1a1a1a">PM</text>
</svg>
</body></html>
